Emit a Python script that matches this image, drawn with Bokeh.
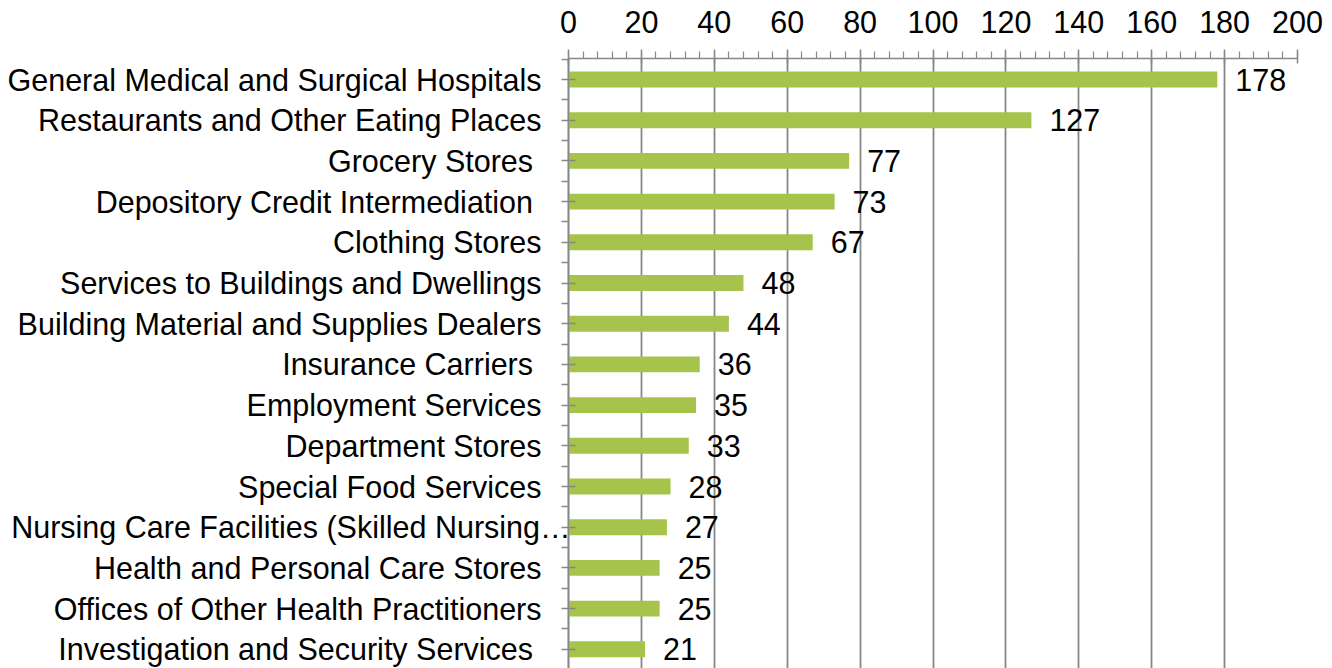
from bokeh.plotting import figure
from bokeh.models import Range1d, FixedTicker, Label, ColumnDataSource, LabelSet
from bokeh.core.properties import value
from bokeh.embed import file_html
from bokeh.resources import INLINE

categories = [
    "General Medical and Surgical Hospitals",
    "Restaurants and Other Eating Places",
    "Grocery Stores ",
    "Depository Credit Intermediation ",
    "Clothing Stores",
    "Services to Buildings and Dwellings",
    "Building Material and Supplies Dealers",
    "Insurance Carriers ",
    "Employment Services",
    "Department Stores",
    "Special Food Services",
    "Nursing Care Facilities (Skilled Nursing\u2026",
    "Health and Personal Care Stores",
    "Offices of Other Health Practitioners",
    "Investigation and Security Services ",
]
values = [178, 127, 77, 73, 67, 48, 44, 36, 35, 33, 28, 27, 25, 25, 21]
x_major_ticks = list(range(0, 201, 20))
x_minor_ticks = list(range(0, 201, 4))

FONT = "Liberation Sans"
FS = "30.5px"
GRAY = "#878787"
GREEN = "#A6C34C"

n = len(categories)
pos = list(range(n))

W, H = 1332, 668
LEFT_PAD = 568          # pixels left of the value axis reserved for category labels
RIGHT_BORDER = 35
TOP_BORDER = 58
frame_w = W - RIGHT_BORDER
px_per_unit = (frame_w - LEFT_PAD) / 200.0
x_start = -LEFT_PAD / px_per_unit
row_px = 40.7
frame_h = H - TOP_BORDER
y_top = -0.516
y_bottom = y_top + frame_h / row_px

p = figure(width=W, height=H, output_backend="svg", toolbar_location=None,
           x_axis_location="above",
           x_range=Range1d(x_start, 200), y_range=Range1d(y_bottom, y_top),
           min_border_left=0, min_border_right=RIGHT_BORDER,
           min_border_top=TOP_BORDER, min_border_bottom=0)
p.outline_line_color = None
p.background_fill_color = "white"
p.border_fill_color = "white"

src = ColumnDataSource(dict(y=pos, v=values, lab=[str(v) for v in values]))
p.hbar(y="y", right="v", left=0, height=0.39, source=src,
       fill_color=GREEN, line_color=None)

# value labels
p.add_layout(LabelSet(x="v", y="y", text="lab", source=src, x_offset=18,
                      text_align="left", text_baseline="middle",
                      text_font=value(FONT), text_font_size=FS,
                      text_color="black"))

# category labels
for i, c in enumerate(categories):
    off = 2 if c.endswith("\u2026") else -27
    p.add_layout(Label(x=0, y=i, text=c, x_offset=off, text_align="right",
                       text_baseline="middle", text_font=FONT,
                       text_font_size=FS, text_color="black"))

xticker = FixedTicker(ticks=x_major_ticks, minor_ticks=x_minor_ticks)
xa = p.xaxis[0]
xa.ticker = xticker
xa.bounds = (0, 200)
xa.axis_line_color = GRAY
xa.axis_line_width = 1.5
xa.major_tick_line_color = GRAY
xa.major_tick_line_width = 1.5
xa.major_tick_out = 9
xa.major_tick_in = 5
xa.minor_tick_line_color = GRAY
xa.minor_tick_line_width = 1.2
xa.minor_tick_out = 7
xa.minor_tick_in = 0
xa.major_label_text_font = FONT
xa.major_label_text_font_size = FS
xa.major_label_text_color = "black"
xa.major_label_standoff = 17

ya = p.yaxis[0]
ya.fixed_location = 0
ya.ticker = FixedTicker(ticks=pos, minor_ticks=[i - 0.5 for i in range(n + 1)])
ya.major_label_overrides = {i: "" for i in pos}
ya.major_label_text_font_size = "0px"
ya.major_label_standoff = 0
ya.axis_line_color = GRAY
ya.axis_line_width = 1.5
ya.major_tick_line_color = GRAY
ya.major_tick_line_width = 1.5
ya.major_tick_out = 7
ya.major_tick_in = 7
ya.minor_tick_line_color = GRAY
ya.minor_tick_line_width = 1.5
ya.minor_tick_out = 7
ya.minor_tick_in = 0

p.xgrid.ticker = xticker
p.xgrid.grid_line_color = GRAY
p.xgrid.grid_line_width = 1.8
p.ygrid.grid_line_color = None

open("out.html", "w").write(file_html(p, INLINE))
